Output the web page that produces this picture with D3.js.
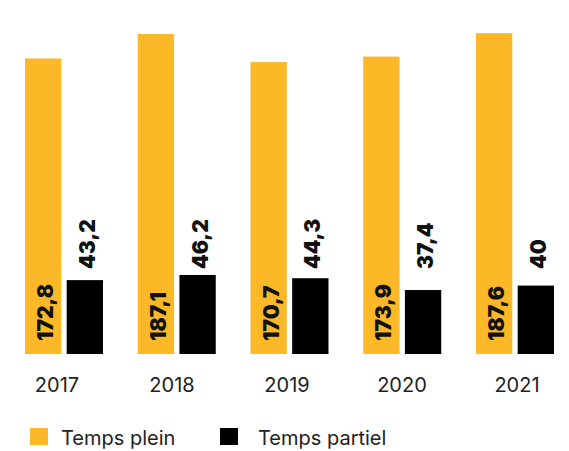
<!DOCTYPE html>
<html><head><meta charset="utf-8">
<script src="https://cdn.jsdelivr.net/npm/d3@7"></script>
<style>body{margin:0;background:#fff}svg{display:block}</style>
</head><body>
<script>
const years = ["2017","2018","2019","2020","2021"];
const plein = [172.8,187.1,170.7,173.9,187.6];
const partiel = [43.2,46.2,44.3,37.4,40];
const labelsPlein = ["172,8","187,1","170,7","173,9","187,6"];
const labelsPartiel = ["43,2","46,2","44,3","37,4","40"];
const series = ["Temps plein","Temps partiel"];
const colors = ["#FCB826","#000000"];

const W=569,H=451, base=354;
const svg=d3.select("body").append("svg").attr("width",W).attr("height",H);
const font="Inter, 'Noto Sans', sans-serif";

const x=d3.scaleBand().domain(years).range([25-(112.75-78)/2, 25-(112.75-78)/2+112.75*5]).paddingInner(0).paddingOuter(0);
const y=d3.scaleLinear().domain([0,187.1]).range([base,34]);
const xl=d3.scalePoint().domain(years).range([57,517]);
const inner=d3.scaleBand().domain(series).range([0,78]).paddingInner(10/78);

const g=svg.append("g");
years.forEach((yr,i)=>{
  const x0=x(yr)+(x.bandwidth()-78)/2;
  [plein[i],partiel[i]].forEach((v,j)=>{
    g.append("rect").attr("x",x0+inner(series[j])).attr("width",inner.bandwidth())
     .attr("y",y(v)).attr("height",base-y(v)).attr("fill",colors[j]);
  });
  const cx0=x0+inner(series[0])+inner.bandwidth()/2;
  const cx1=x0+inner(series[1])+inner.bandwidth()/2;
  g.append("text").attr("transform",`translate(${cx0+10},${base-13}) rotate(-90)`)
   .attr("font-family",font).attr("font-weight",900).attr("font-size",21)
   .attr("fill","#111").text(labelsPlein[i]);
  g.append("text").attr("transform",`translate(${cx1+10},${base-85}) rotate(-90)`)
   .attr("text-anchor","start")
   .attr("font-family",font).attr("font-weight",900).attr("font-size",21)
   .attr("fill","#111").text(labelsPartiel[i]);
  g.append("text").attr("x",xl(yr)).attr("y",392).attr("text-anchor","middle")
   .attr("font-family",font).attr("font-size",20).attr("fill","#222").text(yr);
});

const leg=svg.append("g");
const legX=[30,220], legTX=[61,258];
series.forEach((s,j)=>{
  leg.append("rect").attr("x",legX[j]).attr("y",428).attr("width",18).attr("height",17).attr("fill",colors[j]);
  leg.append("text").attr("x",legTX[j]).attr("y",445).attr("font-family",font)
   .attr("font-size",20).attr("fill","#222").text(s);
});
</script>
</body></html>
